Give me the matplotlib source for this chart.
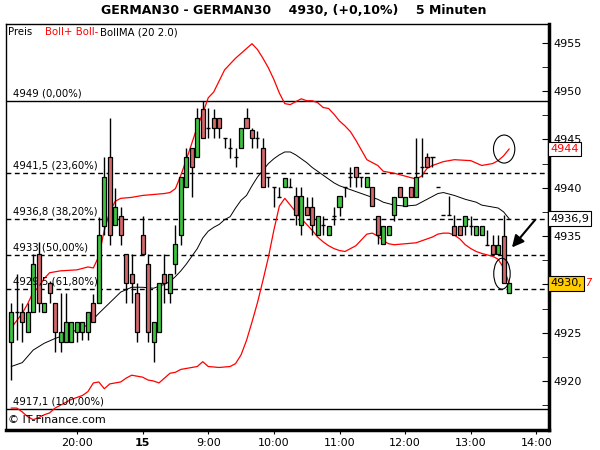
import matplotlib
matplotlib.use("Agg")
import matplotlib.pyplot as plt
from matplotlib.patches import Ellipse

# 5-minute candles, index 0 = 14th 19:00, index 24 = 15th 08:00
opens = [4924.0, 4927.1, 4927.1, 4925.1, 4927.1, 4933.1, 4927.1, 4930.1, 4928.1, 4924.0,
         4924.0, 4924.0, 4925.1, 4925.1, 4925.1, 4928.1, 4928.1, 4936.0, 4943.2, 4936.1,
         4937.1, 4933.1, 4931.1, 4929.1, 4935.1, 4932.1, 4924.0, 4925.1, 4931.1, 4929.1,
         4932.1, 4935.1, 4940.1, 4944.1, 4943.2, 4948.1, 4946.2, 4947.2, 4947.2, 4945.1,
         4944.1, 4943.2, 4944.1, 4947.2, 4946.0, 4945.1, 4944.1, 4941.1, 4940.1, 4939.0,
         4940.1, 4940.1, 4939.1, 4936.1, 4938.0, 4938.0, 4935.1, 4936.1, 4935.1, 4937.1,
         4938.0, 4940.1, 4941.1, 4942.1, 4941.1, 4940.1, 4940.1, 4937.1, 4934.2, 4935.1,
         4937.2, 4940.1, 4938.1, 4940.1, 4939.0, 4942.1, 4943.2, 4943.2, 4940.1, 4937.2,
         4937.2, 4936.0, 4936.0, 4936.0, 4936.0, 4935.1, 4935.1, 4934.1, 4934.1, 4933.1,
         4935.0, 4929.1]
highs = [4928.1, 4931.1, 4928.1, 4928.1, 4933.1, 4934.4, 4928.1, 4930.3, 4928.1, 4929.1,
         4929.1, 4926.1, 4926.1, 4926.1, 4927.1, 4929.0, 4937.0, 4943.2, 4947.2, 4940.0,
         4938.0, 4933.1, 4933.1, 4930.1, 4937.1, 4933.1, 4926.1, 4930.1, 4933.1, 4931.1,
         4936.1, 4941.1, 4944.1, 4944.1, 4948.2, 4949.0, 4948.2, 4948.1, 4947.2, 4945.1,
         4945.1, 4944.1, 4946.2, 4948.2, 4946.2, 4945.9, 4945.1, 4941.1, 4940.1, 4940.1,
         4941.0, 4941.0, 4940.1, 4940.1, 4939.0, 4939.0, 4937.1, 4937.1, 4936.0, 4938.0,
         4939.1, 4940.1, 4942.1, 4942.1, 4941.1, 4941.1, 4940.1, 4937.1, 4936.0, 4936.0,
         4939.0, 4940.1, 4939.0, 4940.1, 4945.1, 4945.1, 4943.6, 4943.2, 4940.1, 4937.2,
         4939.1, 4937.2, 4936.0, 4937.1, 4937.1, 4936.0, 4936.0, 4935.6, 4935.1, 4935.1,
         4937.2, 4930.1]
lows = [4920.1, 4924.2, 4924.0, 4925.1, 4927.1, 4927.1, 4927.1, 4928.1, 4923.0, 4923.0,
        4924.0, 4924.0, 4924.0, 4924.2, 4924.2, 4926.1, 4928.1, 4935.1, 4934.1, 4936.1,
        4934.1, 4928.1, 4928.1, 4924.0, 4933.1, 4924.0, 4922.0, 4925.1, 4928.1, 4928.1,
        4931.1, 4934.1, 4940.1, 4939.0, 4943.2, 4945.1, 4945.1, 4945.1, 4945.1, 4944.1,
        4943.1, 4942.1, 4944.1, 4946.2, 4944.1, 4944.1, 4940.1, 4940.1, 4938.0, 4939.0,
        4940.1, 4940.1, 4936.1, 4935.1, 4937.2, 4935.1, 4935.1, 4935.1, 4935.1, 4936.1,
        4937.1, 4939.0, 4940.1, 4940.1, 4940.1, 4940.1, 4938.1, 4934.2, 4934.2, 4935.1,
        4936.6, 4939.0, 4938.1, 4939.0, 4939.0, 4941.1, 4942.1, 4942.1, 4940.1, 4937.2,
        4937.2, 4935.1, 4935.1, 4935.1, 4935.1, 4935.1, 4935.1, 4934.1, 4933.1, 4933.1,
        4930.1, 4929.1]
closes = [4927.1, 4927.1, 4926.1, 4927.1, 4932.1, 4928.1, 4928.1, 4929.1, 4925.1, 4925.1,
          4926.1, 4926.1, 4926.1, 4926.1, 4927.1, 4926.1, 4935.1, 4941.1, 4935.1, 4938.0,
          4935.1, 4930.1, 4930.1, 4925.1, 4933.1, 4925.1, 4926.1, 4930.1, 4930.1, 4931.1,
          4934.2, 4941.1, 4943.2, 4942.1, 4947.2, 4945.1, 4946.2, 4946.2, 4946.2, 4945.1,
          4944.1, 4943.2, 4946.2, 4946.2, 4945.1, 4945.1, 4940.1, 4941.1, 4940.1, 4939.0,
          4941.0, 4940.1, 4937.2, 4939.1, 4937.2, 4936.1, 4937.1, 4936.1, 4936.0, 4937.1,
          4939.1, 4940.1, 4941.1, 4941.1, 4941.1, 4941.1, 4938.1, 4935.1, 4936.0, 4936.0,
          4939.0, 4939.0, 4939.0, 4939.0, 4941.1, 4942.1, 4942.1, 4943.2, 4940.1, 4937.2,
          4937.2, 4935.1, 4935.1, 4937.1, 4936.0, 4936.0, 4936.0, 4934.1, 4933.1, 4934.1,
          4930.1, 4930.1]

# Bollinger bands / moving average read at sample candles
up_x = [0, 2, 3, 4, 5, 6, 7, 9, 12, 14, 15, 16, 17, 18, 19, 20, 22, 24, 26, 28, 29, 30,
        31, 32, 33, 34, 35, 36, 37, 39, 41, 43, 44, 45, 46, 47, 48, 49, 50, 51, 52, 53,
        54, 55, 56, 57, 58, 59, 60, 61, 62, 63, 64, 65, 66, 67, 68, 70, 72, 74, 75, 76,
        77, 79, 81, 84, 86, 88, 89, 90, 91]
boll_up = [4925.5, 4927.0, 4928.0, 4929.2, 4929.7, 4930.6, 4931.2, 4931.4, 4931.5, 4931.8,
           4931.7, 4932.9, 4935.6, 4937.5, 4938.6, 4938.9, 4939.0, 4939.2, 4939.3, 4939.4,
           4939.5, 4939.9, 4941.3, 4942.9, 4944.6, 4946.3, 4947.7, 4949.3, 4949.9, 4952.2,
           4953.4, 4954.4, 4954.9, 4954.3, 4953.4, 4952.4, 4951.2, 4949.8, 4948.7, 4948.6,
           4948.9, 4949.2, 4949.0, 4949.0, 4948.8, 4948.3, 4948.2, 4947.6, 4946.9, 4946.4,
           4945.8, 4944.9, 4943.9, 4942.9, 4942.6, 4942.3, 4941.7, 4941.5, 4941.2, 4940.9,
           4941.2, 4942.0, 4942.3, 4942.7, 4942.9, 4942.8, 4942.3, 4942.5, 4942.8, 4943.3,
           4944.0]
lo_x = [0, 1, 2, 3, 4, 5, 6, 7, 8, 9, 10, 11, 12, 13, 14, 15, 16, 17, 18, 19, 20, 21, 22,
        23, 24, 25, 26, 27, 28, 29, 30, 31, 32, 34, 35, 36, 38, 40, 41, 42, 43, 44, 45, 46,
        47, 48, 49, 50, 51, 52, 53, 54, 55, 56, 57, 58, 59, 60, 61, 62, 63, 64, 65, 66, 67,
        68, 69, 70, 72, 74, 76, 77, 78, 79, 80, 81, 82, 83, 84, 85, 86, 88, 89, 90, 91]
boll_lo = [4917.2, 4917.2, 4916.8, 4916.3, 4916.0, 4916.2, 4916.5, 4916.7, 4917.2, 4917.5,
           4917.8, 4918.1, 4918.3, 4918.5, 4918.9, 4919.8, 4919.9, 4919.2, 4919.7, 4919.8,
           4919.9, 4920.3, 4920.6, 4920.5, 4920.4, 4920.1, 4920.0, 4919.8, 4920.3, 4920.8,
           4920.9, 4921.2, 4921.3, 4921.5, 4922.0, 4921.5, 4921.4, 4921.5, 4921.8, 4922.7,
           4924.2, 4926.1, 4928.1, 4930.4, 4932.8, 4935.6, 4938.1, 4938.9, 4938.2, 4937.5,
           4936.8, 4936.2, 4935.6, 4934.9, 4934.4, 4934.0, 4933.7, 4933.5, 4933.4, 4933.7,
           4934.0, 4934.6, 4935.2, 4935.3, 4935.0, 4934.5, 4934.2, 4934.1, 4934.2, 4934.3,
           4934.7, 4934.9, 4935.2, 4935.3, 4935.3, 4935.1, 4934.7, 4934.1, 4933.7, 4933.4,
           4933.2, 4932.9, 4932.6, 4931.7, 4930.1]
ma_x = [0, 2, 4, 6, 8, 10, 12, 14, 16, 18, 20, 22, 24, 26, 28, 29, 30, 31, 32, 33, 34, 35,
        36, 37, 38, 39, 40, 41, 42, 43, 44, 45, 46, 47, 48, 49, 50, 51, 52, 53, 54, 55, 56,
        57, 58, 59, 60, 61, 62, 64, 66, 67, 68, 70, 72, 74, 75, 76, 77, 78, 79, 81, 83, 85,
        86, 88, 89, 90, 91]
boll_ma = [4921.5, 4921.9, 4923.2, 4923.9, 4924.4, 4924.8, 4925.3, 4925.8, 4927.0, 4928.1,
           4929.2, 4929.7, 4929.7, 4929.6, 4930.0, 4930.3, 4930.8, 4931.4, 4932.1, 4932.9,
           4933.7, 4934.8, 4935.5, 4935.9, 4936.2, 4936.7, 4937.0, 4937.9, 4938.7, 4939.2,
           4940.2, 4941.1, 4941.8, 4942.5, 4943.0, 4943.4, 4943.7, 4943.7, 4943.4, 4943.0,
           4942.6, 4942.1, 4941.7, 4941.3, 4940.9, 4940.5, 4940.2, 4940.0, 4939.8, 4939.4,
           4939.0, 4938.8, 4938.5, 4938.2, 4938.1, 4938.2, 4938.5, 4938.8, 4939.1, 4939.4,
           4939.5, 4939.2, 4938.8, 4938.5, 4938.2, 4938.0, 4937.9, 4937.5, 4936.8]

# Fibonacci retracement levels
fib_levels = [4949.0, 4941.5, 4936.8, 4933.0, 4929.5, 4917.1]
fib_labels = ["4949 (0,00%)", "4941,5 (23,60%)", "4936,8 (38,20%)", "4933 (50,00%)",
              "4929,5 (61,80%)", "4917,1 (100,00%)"]

tick_idx = [12, 24, 36, 48, 60, 72, 84, 96]
tick_lbl = ["20:00", "15", "9:00", "10:00", "11:00", "12:00", "13:00", "14:00"]
price_ticks = [4920, 4925, 4930, 4935, 4940, 4945, 4950, 4955]

GREEN = "#3fc43f"
RED = "#d4696c"

fig = plt.figure(figsize=(6, 4.5), dpi=100)
ax = fig.add_axes([6 / 600, 1 - 430 / 450, 543 / 600, 406 / 450])
ax.set_xlim(-0.97, 98.3)
ax.set_ylim(4914.93, 4956.94)

# fib lines
for lv, lb in zip(fib_levels, fib_labels):
    solid = lb.endswith("(0,00%)") or lb.endswith("(100,00%)")
    ax.axhline(lv, color="black", lw=1.0, ls="-" if solid else (0, (3.5, 2.5)), zorder=1)
    ax.text(0.3, lv + 0.25, lb, fontsize=7.3, va="bottom", ha="left", zorder=6)

# bands
ax.plot(up_x, boll_up, color="red", lw=0.9, zorder=3)
ax.plot(lo_x, boll_lo, color="red", lw=0.9, zorder=3)
ax.plot(ma_x, boll_ma, color="black", lw=0.7, zorder=3)

# candles
bw = 0.74
for i, (o, h, l, c) in enumerate(zip(opens, highs, lows, closes)):
    ax.vlines(i, l, h, color="black", lw=1.0, zorder=4)
    if abs(c - o) < 0.05:
        ax.hlines(o, i - bw / 2, i + bw / 2, color="black", lw=1.0, zorder=5)
    else:
        ax.bar(i, c - o, bottom=o, width=bw, color=GREEN if c > o else RED,
               edgecolor="black", linewidth=0.9, zorder=5)

# hand drawn marks
ax.add_patch(Ellipse((90.1, 4944.0), 3.9, 2.9, fill=False, ec="black", lw=0.8, zorder=7))
ax.add_patch(Ellipse((89.7, 4931.1), 3.0, 3.2, fill=False, ec="black", lw=0.8, zorder=7))
ax.annotate("", xy=(91.2, 4933.6), xytext=(96.1, 4936.9),
            arrowprops=dict(arrowstyle="-|>,head_width=0.35,head_length=0.7",
                            color="black", lw=1.5), zorder=7)

# axes styling
for s in ["left", "top"]:
    ax.spines[s].set_linewidth(1.0)
for s in ["right", "bottom"]:
    ax.spines[s].set_linewidth(2.5)
ax.yaxis.tick_right()
ax.set_yticks(price_ticks)
# the 4930 label sits under the last-price box, as in the original
ax.set_yticklabels(["" if p == 4930 else str(p) for p in price_ticks])
ax.set_yticks([4917.5, 4922.5, 4927.5, 4932.5, 4937.5, 4942.5, 4947.5, 4952.5], minor=True)
ax.tick_params(axis="y", which="both", direction="in", length=5, labelsize=8, pad=3)
ax.set_xticks(tick_idx)
ax.set_xticklabels(tick_lbl)
ax.tick_params(axis="x", direction="out", length=3, labelsize=8, pad=3)
for t in ax.get_xticklabels():
    if t.get_text() == "15":
        t.set_fontweight("bold")

# last values on the right axis
box = dict(boxstyle="square,pad=0.2", fc="white", ec="black", lw=0.8)
ax.text(98.5, boll_up[-1], "4944", color="red", fontsize=8, va="center", ha="left",
        bbox=box, zorder=8, clip_on=False)
ax.text(98.5, boll_ma[-1], "4936,9", color="black", fontsize=8, va="center", ha="left",
        bbox=box, zorder=8, clip_on=False)
last = ax.text(98.5, closes[-1], "4930,", color="black", fontsize=8, va="center",
               ha="left", zorder=8, clip_on=False,
               bbox=dict(boxstyle="square,pad=0.2", fc="#ffcc00", ec="black", lw=0.8))
ax.annotate("7", xy=(1, 0.5), xycoords=last, xytext=(2.5, 0), textcoords="offset points",
            color="red", fontsize=7, va="center", ha="left", style="italic",
            zorder=9, annotation_clip=False)

# legend line and copyright
t1 = ax.text(0.004, 0.992, "Preis", transform=ax.transAxes, fontsize=7.3, va="top")
t2 = ax.annotate("Boll+ Boll-", xy=(1, 0), xycoords=t1, xytext=(9, 0),
                 textcoords="offset points", fontsize=7.3, va="bottom", color="red")
ax.annotate("BollMA (20 2.0)", xy=(1, 0), xycoords=t2, xytext=(1.5, 0),
            textcoords="offset points", fontsize=7.3, va="bottom")
ax.text(0.003, 0.012, "\u00a9 IT-Finance.com", transform=ax.transAxes, fontsize=8,
        va="bottom")

fig.text(0.49, 0.977, "GERMAN30 - GERMAN30    4930, (+0,10%)    5 Minuten",
         ha="center", va="center", fontsize=9, fontweight="bold")

fig.savefig("out.png", dpi=100)
